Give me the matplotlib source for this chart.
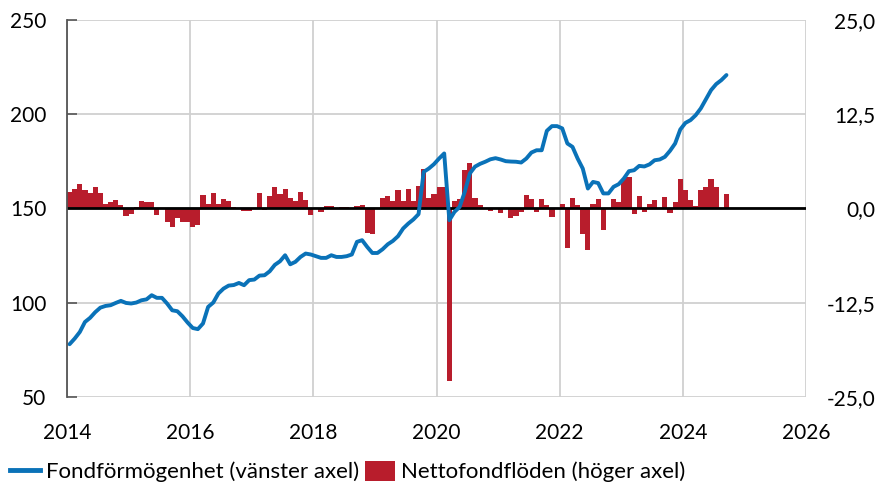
import numpy as np
import matplotlib
matplotlib.use("Agg")
import matplotlib.pyplot as plt
from matplotlib.lines import Line2D
from matplotlib.patches import Patch

plt.rcParams['font.family'] = ['Lato', 'DejaVu Sans']

# monthly data, Jan 2014 - Sep 2024
fund_assets = [
    78, 81, 84.5, 89.8, 92, 95, 97.4, 98.3, 98.7, 99.9, 101, 99.9,
    99.6, 100.1, 101.3, 101.8, 104, 102.6, 102.6, 99.6, 96, 95.5, 92.8, 89.5,
    86.6, 86, 89, 97.8, 100.1, 104.9, 107.5, 109.1, 109.4, 110.5, 109.3, 112,
    112.3, 114.4, 114.6, 116.7, 120.1, 122, 125.2, 120.4, 121.7, 124.3, 126.1, 125.6,
    124.7, 123.8, 123.8, 125.2, 124.3, 124.3, 124.7, 125.6, 132.3, 133.2, 129.6, 126.4,
    126.4, 128.4, 131, 132.8, 135.3, 139.4, 142, 144.2, 147, 169.4, 171.2, 173.5,
    176.5, 179.2, 143.8, 148.2, 150.8, 158.8, 168.6, 172.2, 173.7, 174.8, 176.1, 176.7,
    176, 175.1, 174.9, 174.8, 174.4, 176.5, 179.7, 180.9, 180.9, 191.2, 193.7, 193.7,
    192.5, 184.5, 182.7, 176.5, 171.2, 160.6, 164.1, 163.5, 158, 158, 161.5, 162.9,
    165.9, 169.8, 170.3, 172.6, 172.3, 173.4, 175.6, 176, 177.4, 180.6, 184.5, 191.9,
    195.4, 196.9, 199.5, 203.1, 207.9, 212.8, 216, 218.1, 220.8,
]
net_flows = [
    2.2, 2.6, 3.3, 2.4, 2.1, 2.9, 2.1, 0.6, 0.8, 1.1, 0.45, -1.0,
    -0.75, 0.15, 0.95, 0.85, 0.9, -0.9, 0.0, -1.85, -2.4, -1.3, -1.8, -1.75,
    -2.45, -2.2, 1.85, 0.6, 2.0, 0.6, 1.3, 1.05, 0.25, 0.05, -0.3, -0.3,
    0.05, 2.0, -0.2, 1.7, 2.8, 1.9, 2.55, 1.4, 0.95, 2.25, 1.1, -0.85,
    0.05, -0.4, 0.3, 0.3, 0.05, 0.25, 0.15, 0.05, 0.3, 0.5, -3.2, -3.4,
    0.05, 1.4, 1.7, 1.05, 2.4, 1.05, 2.65, 1.05, 3.0, 5.2, 1.4, 1.9,
    2.9, 2.8, -22.9, 1.0, 1.3, 5.1, 6.1, 1.4, 0.4, 0.1, -0.3, 0.0,
    -0.6, 0.0, -1.2, -1.0, -0.5, 1.75, 1.3, -0.45, 1.2, 0.5, -1.1, 0.0,
    0.6, -5.2, 1.35, 0.5, -3.4, -5.45, 0.6, 1.3, -2.9, 0.0, 1.2, 0.9,
    3.85, 4.15, -0.75, 1.6, -0.5, 0.55, 1.15, 0.0, 1.5, -0.6, 0.8, 3.95,
    2.4, 1.15, 0.3, 2.45, 2.9, 3.85, 2.8, 0.0, 1.9,
]
left_ticks = [50, 100, 150, 200, 250]
right_ticks = [-25, -12.5, 0, 12.5, 25]
right_labels = ["-25,0", "-12,5", "0,0", "12,5", "25,0"]
year_ticks = [2014, 2016, 2018, 2020, 2022, 2024, 2026]

months = np.arange(len(fund_assets))
x = 2014 + (months + 0.5) / 12

blue = "#0a72b8"
red = "#b81d2c"
fs = 15

fig = plt.figure(figsize=(8.79, 4.86), dpi=100)
ax2 = fig.add_axes([67 / 879, 1 - 397 / 486, 739 / 879, 377 / 486])
ax = ax2.twinx()
ax.set_zorder(ax2.get_zorder() + 1)
ax.patch.set_visible(False)

# bars on right axis (drawn underneath)
ax2.bar(x, net_flows, width=1 / 12, color=red, linewidth=0)
ax2.set_ylim(-25, 25)
ax2.set_xlim(2014, 2026)
ax2.set_xticks(year_ticks)
ax2.set_yticks(right_ticks)
ax2.set_yticklabels(right_labels)
ax2.grid(True, color="#d0d0d0", linewidth=1.3)
ax2.set_axisbelow(True)
ax2.yaxis.tick_right()
ax2.tick_params(axis="y", length=0, pad=50, labelsize=fs)
ax2.tick_params(axis="x", length=0, pad=19, labelsize=fs)
for lab in ax2.get_yticklabels():
    lab.set_horizontalalignment("right")
for s in ax2.spines.values():
    s.set_visible(False)

# line on left axis
ax.axhline(150, color="black", linewidth=2)
ax.plot(x, fund_assets, color=blue, linewidth=2.8, solid_capstyle="round")
ax.set_ylim(50, 250)
ax.set_yticks(left_ticks)
ax.yaxis.tick_left()
ax.tick_params(axis="y", direction="in", length=7, width=1.2, color="#555555",
               pad=15, labelsize=fs)
for k, s in ax.spines.items():
    s.set_visible(k == "left")
ax.spines["left"].set_color("#555555")
ax.spines["left"].set_linewidth(1.3)

handles = [Line2D([0], [0], color=blue, linewidth=3.5),
           Patch(facecolor=red, edgecolor="none")]
fig.legend(handles, ["Fondförmögenhet (vänster axel)", "Nettofondflöden (höger axel)"],
           loc="lower left", bbox_to_anchor=(0.0, -0.013), ncol=2, frameon=False,
           fontsize=16, handlelength=1.35, handleheight=1.0, handletextpad=0.25,
           columnspacing=0.3, borderaxespad=0.05)

fig.savefig("out.png", dpi=100)
